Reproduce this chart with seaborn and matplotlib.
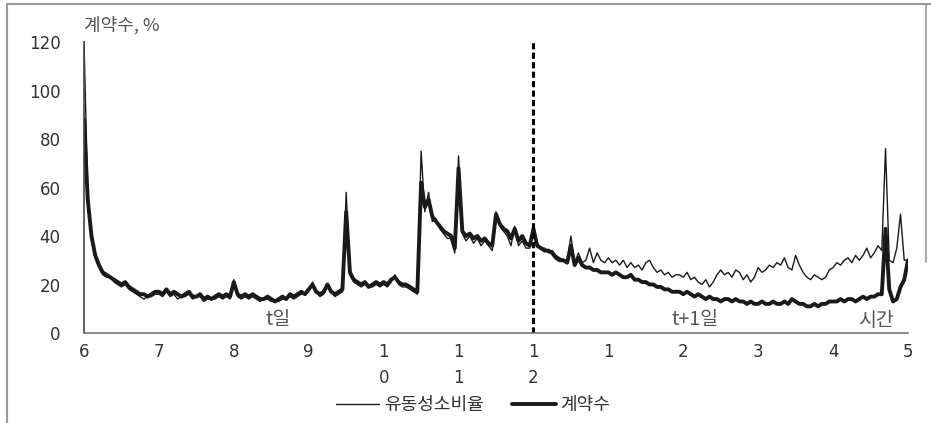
import matplotlib
matplotlib.use("Agg")
import matplotlib.pyplot as plt
import seaborn as sns
import numpy as np
import pandas as pd
from matplotlib.lines import Line2D

# ---- data: 3-minute samples from 6:00 (day t) to 5:00 (day t+1 axis), hours 0..11 ----
# 계약수 (thick line), 20 samples per hour
contracts_h0 = [88, 55, 40, 32, 28, 25, 24, 23, 22, 21, 20, 21, 19, 18, 17, 16, 16, 15, 16, 17]
contracts_h1 = [17, 16, 18, 16, 17, 16, 15, 16, 17, 15, 15, 16, 14, 15, 14, 15, 16, 15, 16, 15]
contracts_h2 = [21, 16, 15, 16, 15, 16, 15, 14, 14, 15, 14, 13, 14, 15, 14, 16, 15, 16, 17, 16]
contracts_h3 = [18, 20, 17, 16, 17, 20, 17, 16, 17, 18, 50, 25, 22, 21, 20, 21, 19, 20, 21, 20]
contracts_h4 = [21, 20, 22, 23, 21, 20, 20, 19, 18, 17, 62, 52, 55, 48, 46, 44, 42, 41, 40, 35]
contracts_h5 = [68, 42, 40, 41, 39, 40, 38, 39, 37, 36, 49, 45, 43, 42, 39, 43, 38, 40, 37, 36]
contracts_h6 = [43, 36, 35, 34, 34, 33, 31, 30, 30, 29, 36, 28, 31, 28, 27, 27, 26, 26, 25, 25]
contracts_h7 = [25, 24, 25, 24, 23, 23, 24, 22, 22, 21, 21, 20, 20, 19, 19, 18, 18, 17, 17, 17]
contracts_h8 = [16, 17, 16, 15, 16, 15, 14, 15, 14, 14, 13, 14, 14, 13, 14, 13, 13, 12, 13, 12]
contracts_h9 = [12, 13, 12, 12, 13, 12, 12, 13, 12, 14, 13, 12, 12, 11, 11, 12, 11, 12, 12, 13]
contracts_h10 = [13, 13, 14, 13, 14, 14, 13, 14, 15, 14, 15, 15, 16, 16, 43, 18, 13, 14, 19, 22, 30]

# 유동성소비율 (thin line)
liquidity_h0 = [120, 58, 38, 31, 27, 24, 23, 23, 21, 20, 19, 20, 18, 17, 16, 15, 14, 15, 15, 16]
liquidity_h1 = [16, 15, 17, 15, 16, 14, 15, 15, 16, 14, 15, 15, 13, 14, 14, 14, 15, 14, 15, 14]
liquidity_h2 = [22, 15, 14, 15, 14, 15, 14, 13, 14, 14, 13, 13, 13, 14, 14, 15, 14, 15, 16, 16]
liquidity_h3 = [17, 21, 17, 15, 16, 19, 17, 15, 16, 17, 58, 24, 21, 20, 19, 20, 19, 19, 20, 19]
liquidity_h4 = [20, 19, 21, 24, 20, 19, 19, 18, 17, 16, 75, 50, 58, 46, 47, 43, 41, 39, 39, 33]
liquidity_h5 = [73, 41, 38, 40, 37, 39, 36, 38, 36, 34, 50, 44, 42, 40, 36, 44, 36, 38, 35, 35]
liquidity_h6 = [44, 37, 35, 35, 33, 34, 32, 31, 30, 30, 40, 29, 33, 29, 30, 35, 29, 33, 30, 29]
liquidity_h7 = [31, 29, 30, 28, 30, 27, 29, 27, 28, 26, 29, 30, 27, 25, 26, 24, 25, 23, 24, 24]
liquidity_h8 = [23, 25, 22, 23, 21, 20, 22, 19, 21, 24, 26, 24, 25, 23, 26, 25, 22, 24, 21, 23]
liquidity_h9 = [27, 25, 26, 28, 27, 29, 28, 31, 27, 26, 32, 28, 25, 23, 22, 24, 23, 22, 23, 26]
liquidity_h10 = [27, 29, 28, 30, 31, 29, 32, 30, 32, 35, 31, 33, 36, 34, 76, 30, 29, 35, 49, 30, 30]

tick_labels = ["6", "7", "8", "9", "1\n0", "1\n1", "1\n2", "1", "2", "3", "4", "5"]
y_ticks = [0, 20, 40, 60, 80, 100, 120]
series_names = ["유동성소비율", "계약수"]

contracts = (contracts_h0 + contracts_h1 + contracts_h2 + contracts_h3 + contracts_h4 +
             contracts_h5 + contracts_h6 + contracts_h7 + contracts_h8 + contracts_h9 + contracts_h10)
liquidity = (liquidity_h0 + liquidity_h1 + liquidity_h2 + liquidity_h3 + liquidity_h4 +
             liquidity_h5 + liquidity_h6 + liquidity_h7 + liquidity_h8 + liquidity_h9 + liquidity_h10)
hours = np.arange(len(contracts)) * 0.05  # 3-minute steps in hours

df = pd.DataFrame({"t": hours, series_names[0]: liquidity, series_names[1]: contracts})

sns.set_theme(style="white")
plt.rcParams["font.family"] = ["Noto Sans CJK KR", "DejaVu Sans"]

fig = plt.figure(figsize=(9.31, 4.23), dpi=100)
ax = fig.add_axes([84 / 931, 1 - 333 / 423, (908 - 84) / 931, (333 - 42) / 423])

line_color = "#1a1a1a"
thin_lw, thick_lw = 1.0, 2.8
sns.lineplot(data=df, x="t", y=series_names[0], ax=ax, color=line_color, linewidth=thin_lw)
sns.lineplot(data=df, x="t", y=series_names[1], ax=ax, color=line_color, linewidth=thick_lw)

ax.axvline(6, ymin=0, ymax=1, color="black", linestyle=(0, (2.0, 1.1)), linewidth=2.2)

ax.set_xlim(0, 11)
ax.set_ylim(0, 120)
ax.set_xticks(range(12))
ax.set_xticklabels(tick_labels, fontsize=12, color="#333333", linespacing=1.6,
                   family=["DejaVu Sans"], va="top")
ax.set_yticks(y_ticks)
ax.set_yticklabels([str(v) for v in y_ticks], fontsize=12, color="#333333", family=["DejaVu Sans"])
ax.tick_params(axis="x", length=0, pad=7)
ax.tick_params(axis="y", length=0, pad=17)
ax.set_xlabel("")
ax.set_ylabel("")
for s in ["top", "right"]:
    ax.spines[s].set_visible(False)
ax.spines["left"].set_color("#444444")
ax.spines["bottom"].set_color("#777777")
ax.spines["left"].set_linewidth(1.2)
ax.spines["bottom"].set_linewidth(1.2)

txt_color = "#555555"
fig.text(84 / 931, 1 - 25 / 423, "계약수, %", fontsize=13, color=txt_color, ha="left", va="center")
fig.text(278 / 931, 1 - 320 / 423, "t일", fontsize=14, color=txt_color, ha="center", va="center")
fig.text(695 / 931, 1 - 320 / 423, "t+1일", fontsize=14, color=txt_color, ha="center", va="center")
fig.text(876 / 931, 1 - 320 / 423, "시간", fontsize=14, color=txt_color, ha="center", va="center")

handles = [Line2D([0], [0], color=line_color, linewidth=thin_lw),
           Line2D([0], [0], color=line_color, linewidth=thick_lw)]
fig.legend(handles, series_names, loc="center", bbox_to_anchor=(473 / 931, 1 - 405 / 423),
           ncol=2, frameon=False, fontsize=13, handlelength=2.4, handletextpad=0.25,
           columnspacing=1.6, labelcolor="#333333")

# outer frame
frame_color = "#9a9a9a"
fig.add_artist(Line2D([7 / 931, 7 / 931], [0, 1 - 4 / 423], transform=fig.transFigure,
                      color=frame_color, linewidth=1.5))
fig.add_artist(Line2D([7 / 931, 1], [1 - 4 / 423, 1 - 4 / 423], transform=fig.transFigure,
                      color=frame_color, linewidth=1.5))
fig.add_artist(Line2D([926 / 931, 926 / 931], [1 - 262 / 423, 1 - 4 / 423], transform=fig.transFigure,
                      color=frame_color, linewidth=1.2))

fig.savefig("out.png", dpi=100)
